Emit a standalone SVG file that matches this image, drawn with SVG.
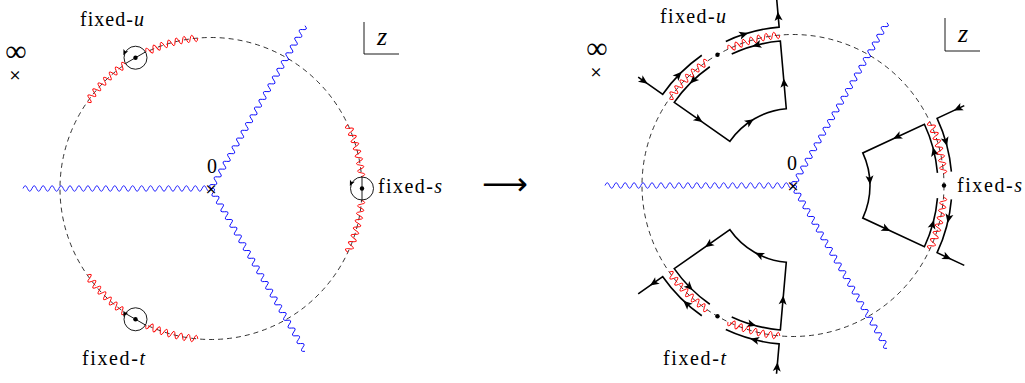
<svg xmlns="http://www.w3.org/2000/svg" width="1025" height="383" viewBox="0 0 1025 383">
<style>
.dash{fill:none;stroke:#000;stroke-width:0.8;stroke-dasharray:5,4}
.blue{fill:none;stroke:#0000ff;stroke-width:0.85}
.red{fill:none;stroke:#ff0000;stroke-width:0.9}
.ct{fill:none;stroke:#000;stroke-width:1.6}
.thin{fill:none;stroke:#000;stroke-width:0.9}
.lbl{font-family:"Liberation Serif","DejaVu Serif",serif;font-size:20px;fill:#000}
.zl{font-family:"Liberation Serif","DejaVu Serif",serif;font-size:26px;font-style:italic;fill:#000;text-anchor:middle}
.it{font-style:italic}
.inf{font-family:"Liberation Serif","DejaVu Serif",serif;font-size:30px;fill:#000;text-anchor:middle}
.cross{font-family:"DejaVu Serif",serif;font-size:15px;fill:#000;text-anchor:middle}
.lar{font-family:"DejaVu Sans",sans-serif;font-size:32px;fill:#000;text-anchor:middle}
</style>
<defs>
<path id="bw" class="blue" d="M0,0 q2.238,-5.5 4.476,0 t4.476,0 4.476,0 4.476,0 4.476,0 4.476,0 4.476,0 4.476,0 4.476,0 4.476,0 4.476,0 4.476,0 4.476,0 4.476,0 4.476,0 4.476,0 4.476,0 4.476,0 4.476,0 4.476,0 4.476,0 4.476,0 4.476,0 4.476,0 4.476,0 4.476,0 4.476,0 4.476,0 4.476,0 4.476,0 4.476,0 4.476,0 4.476,0 4.476,0 4.476,0 4.476,0 4.476,0 4.476,0 4.476,0 4.476,0 4.476,0 4.476,0"/>
<path id="rseg" class="red" d="M151,-3.859 q-7,1.9295 0,3.859 t0,3.859"/>
<g id="redhalf">
<use href="#rseg" transform="rotate(-5.964)"/>
<use href="#rseg" transform="rotate(-8.893)"/>
<use href="#rseg" transform="rotate(-11.821)"/>
<use href="#rseg" transform="rotate(-14.750)"/>
<use href="#rseg" transform="rotate(-17.679)"/>
<use href="#rseg" transform="rotate(-20.607)"/>
<use href="#rseg" transform="rotate(-23.536)"/>
</g>
<g id="redpair">
<use href="#redhalf"/>
<use href="#redhalf" transform="scale(1,-1)"/>
</g>
<path id="ah" d="M4.5,0 L-4.5,-4 L-2.3,0 L-4.5,4 Z" fill="#000"/>
<g id="cont">
<path class="ct" d="M171.29,-79.87 L144.10,-67.20 A159,159 0 0 1 158.39,-13.86"/>
<path class="ct" d="M158.39,13.86 A159,159 0 0 1 144.10,67.20 L171.29,79.87"/>
<path class="ct" d="M144.45,-12.64 A145,145 0 0 0 131.41,-61.28 L69.79,-32.54 A77,77 0 0 1 69.79,32.54 L131.41,61.28 A145,145 0 0 0 144.45,12.64"/>
<use href="#ah" transform="translate(164.95,-76.92) rotate(155)"/>
<use href="#ah" transform="translate(152.84,-43.83) rotate(74)"/>
<use href="#ah" transform="translate(155.53,33.06) rotate(102)"/>
<use href="#ah" transform="translate(154.07,71.85) rotate(25)"/>
<use href="#ah" transform="translate(141.0,-33.85) rotate(-103.5)"/>
<use href="#ah" transform="translate(139.73,38.75) rotate(-74.5)"/>
<use href="#ah" transform="translate(104.22,-48.60) rotate(155)"/>
<use href="#ah" transform="translate(76.81,-5.37) rotate(86)"/>
<use href="#ah" transform="translate(93.35,43.53) rotate(25)"/>
</g>
</defs>
<rect width="1025" height="383" fill="#fff"/>

<!-- LEFT PLANE -->
<g id="left-plane">
<circle class="dash" cx="211" cy="188.5" r="151"/>
<g id="left-cuts">
<use href="#bw" transform="translate(211,188.5) rotate(180)"/>
<use href="#bw" transform="translate(211,188.5) rotate(-60)"/>
<use href="#bw" transform="translate(211,188.5) rotate(60)"/>
</g>
<g id="left-origin">
<text class="cross" x="211" y="193.5">×</text>
<text class="lbl" x="212" y="173" text-anchor="middle">0</text>
</g>
<g id="left-infinity">
<text class="inf" x="16" y="61">∞</text>
<text class="cross" x="15" y="80">×</text>
</g>
<g id="left-z">
<path class="thin" d="M364,22 V54 H399"/>
<text class="zl" x="382" y="45">z</text>
</g>
<g id="left-fixed-u">
<use href="#redpair" transform="translate(211,188.5) rotate(-120)"/>
<circle cx="135.5" cy="57.73" r="11.5" fill="#fff" stroke="#000" stroke-width="0.9"/>
<path class="thin" d="M125.54,63.48 L145.46,51.98"/>
<circle cx="135.5" cy="57.73" r="2.2" fill="#000"/>
<use href="#ah" transform="translate(124.6,52.7) rotate(115) scale(0.65)"/>
<text class="lbl" x="80" y="26" textLength="64">fixed-<tspan class="it">u</tspan></text>
</g>
<g id="left-fixed-s">
<use href="#redpair" transform="translate(211,188.5)"/>
<circle cx="362" cy="188.5" r="11.5" fill="#fff" stroke="#000" stroke-width="0.9"/>
<path class="thin" d="M362,177 L362,200"/>
<circle cx="362" cy="188.5" r="2.2" fill="#000"/>
<use href="#ah" transform="translate(351.1,183.4) rotate(115) scale(0.65)"/>
<text class="lbl" x="378" y="193" textLength="64">fixed-<tspan class="it">s</tspan></text>
</g>
<g id="left-fixed-t">
<use href="#redpair" transform="translate(211,188.5) rotate(120)"/>
<circle cx="135.5" cy="319.27" r="11.5" fill="#fff" stroke="#000" stroke-width="0.9"/>
<path class="thin" d="M125.54,313.52 L145.46,325.02"/>
<circle cx="135.5" cy="319.27" r="2.2" fill="#000"/>
<use href="#ah" transform="translate(124.6,314.2) rotate(115) scale(0.65)"/>
<text class="lbl" x="82" y="365" textLength="63">fixed-<tspan class="it">t</tspan></text>
</g>
</g>

<g id="map-arrow">
<text class="lar" x="505" y="195">⟶</text>
</g>

<!-- RIGHT PLANE -->
<g id="right-plane">
<circle class="dash" cx="793" cy="185.5" r="151"/>
<g id="right-cuts">
<use href="#bw" transform="translate(793,185.5) rotate(180)"/>
<use href="#bw" transform="translate(793,185.5) rotate(-60)"/>
<use href="#bw" transform="translate(793,185.5) rotate(60)"/>
</g>
<g id="right-origin">
<text class="cross" x="793" y="190.5">×</text>
<text class="lbl" x="792" y="170" text-anchor="middle">0</text>
</g>
<g id="right-infinity">
<text class="inf" x="597" y="58">∞</text>
<text class="cross" x="596" y="77">×</text>
</g>
<g id="right-z">
<path class="thin" d="M945,18 V51 H980"/>
<text class="zl" x="963" y="42">z</text>
</g>
<g id="connectors">
<use href="#cont" transform="translate(793,185.5) rotate(-120)"/>
<use href="#cont" transform="translate(793,185.5)"/>
<use href="#cont" transform="translate(793,185.5) rotate(120)"/>
</g>
<g id="right-fixed-u">
<use href="#redpair" transform="translate(793,185.5) rotate(-120)"/>
<circle cx="717.5" cy="54.73" r="2.2" fill="#000"/>
<text class="lbl" x="660" y="23" textLength="66">fixed-<tspan class="it">u</tspan></text>
</g>
<g id="right-fixed-s">
<use href="#redpair" transform="translate(793,185.5)"/>
<circle cx="944" cy="185.5" r="2.2" fill="#000"/>
<text class="lbl" x="957" y="192" textLength="65">fixed-<tspan class="it">s</tspan></text>
</g>
<g id="right-fixed-t">
<use href="#redpair" transform="translate(793,185.5) rotate(120)"/>
<circle cx="717.5" cy="316.27" r="2.2" fill="#000"/>
<text class="lbl" x="663" y="365" textLength="63">fixed-<tspan class="it">t</tspan></text>
</g>
</g>
</svg>
